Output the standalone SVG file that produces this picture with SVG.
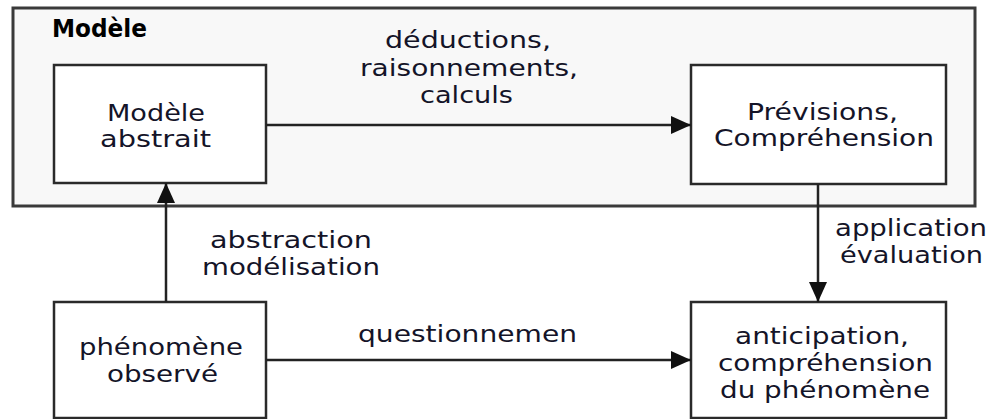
<svg xmlns="http://www.w3.org/2000/svg" width="992" height="419" viewBox="0 0 992 419">
  <defs>
    <marker id="arrow" markerWidth="20" markerHeight="18" refX="20" refY="9" orient="auto" markerUnits="userSpaceOnUse">
      <path d="M0,0 L20,9 L0,18 Z" fill="#111"/>
    </marker>
    <clipPath id="clip-q">
      <rect x="340" y="310" width="237" height="45"/>
    </clipPath>
  </defs>
  <style>
    .frame { fill: #f8f8f8; stroke: #3a3a3a; stroke-width: 3; }
    .box { fill: #ffffff; stroke: #2a2a2a; stroke-width: 2.5; }
    .edge { fill: none; stroke: #222; stroke-width: 2.5; }
    text { font-family: "DejaVu Sans", Verdana, sans-serif; font-size: 23.5px; fill: #141428; }
    .title { font-weight: bold; font-size: 24px; fill: #000; }
  </style>

  <rect width="992" height="419" fill="#ffffff"/>

  <!-- model container -->
  <g id="modele">
    <rect class="frame" x="13" y="8" width="962" height="198"/>
    <text class="title" x="52" y="37" textLength="95" lengthAdjust="spacingAndGlyphs">Modèle</text>
  </g>

  <g id="modele-abstrait">
    <rect class="box" x="54" y="65" width="212" height="118"/>
    <text x="107" y="121" textLength="98" lengthAdjust="spacingAndGlyphs">Modèle</text>
    <text x="100" y="147" textLength="111" lengthAdjust="spacingAndGlyphs">abstrait</text>
  </g>

  <g id="previsions">
    <rect class="box" x="691" y="65" width="255" height="119"/>
    <text x="747" y="120" textLength="151" lengthAdjust="spacingAndGlyphs">Prévisions,</text>
    <text x="714" y="146" textLength="220" lengthAdjust="spacingAndGlyphs">Compréhension</text>
  </g>

  <g id="phenomene">
    <rect class="box" x="54" y="302" width="212" height="116"/>
    <text x="79" y="355" textLength="164" lengthAdjust="spacingAndGlyphs">phénomène</text>
    <text x="107" y="382" textLength="111" lengthAdjust="spacingAndGlyphs">observé</text>
  </g>

  <g id="anticipation">
    <rect class="box" x="691" y="302" width="255" height="116"/>
    <text x="735" y="344" textLength="174" lengthAdjust="spacingAndGlyphs">anticipation,</text>
    <text x="718" y="371" textLength="215" lengthAdjust="spacingAndGlyphs">compréhension</text>
    <text x="720" y="398" textLength="210" lengthAdjust="spacingAndGlyphs">du phénomène</text>
  </g>

  <g id="connectors">
    <line class="edge" x1="266" y1="125" x2="691" y2="125" marker-end="url(#arrow)"/>
    <line class="edge" x1="166" y1="302" x2="166" y2="183" marker-end="url(#arrow)"/>
    <line class="edge" x1="818" y1="184" x2="818" y2="302" marker-end="url(#arrow)"/>
    <line class="edge" x1="266" y1="360" x2="691" y2="360" marker-end="url(#arrow)"/>

    <text x="385" y="48" textLength="166" lengthAdjust="spacingAndGlyphs">déductions,</text>
    <text x="360" y="76" textLength="218" lengthAdjust="spacingAndGlyphs">raisonnements,</text>
    <text x="420" y="103" textLength="93" lengthAdjust="spacingAndGlyphs">calculs</text>

    <text x="210" y="248" textLength="162" lengthAdjust="spacingAndGlyphs">abstraction</text>
    <text x="202" y="275" textLength="178" lengthAdjust="spacingAndGlyphs">modélisation</text>

    <text x="835" y="236" textLength="152" lengthAdjust="spacingAndGlyphs">application</text>
    <text x="840" y="263" textLength="143" lengthAdjust="spacingAndGlyphs">évaluation</text>

    <text x="358" y="342" textLength="230" lengthAdjust="spacingAndGlyphs" clip-path="url(#clip-q)">questionnement</text>
  </g>
</svg>
